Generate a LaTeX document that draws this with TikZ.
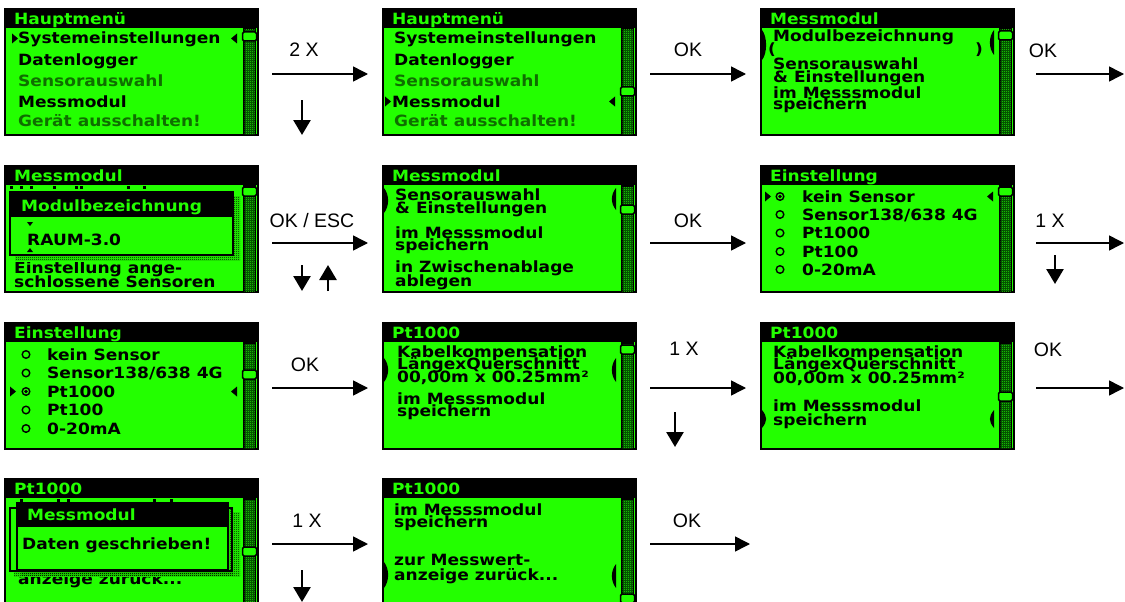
\documentclass[tikz,border=0pt]{standalone}
\usepackage{fontspec}
\setmainfont{Liberation Sans}
\newfontfamily\lcdfont[FakeStretch=1.1]{DejaVu Sans}
\usetikzlibrary{arrows.meta,patterns}

\definecolor{lcdgreen}{RGB}{35,255,0}
\definecolor{lcddim}{RGB}{15,110,0}
\definecolor{lcddark}{RGB}{0,60,0}

% fine checker for scroll bars and popup shadows
\pgfdeclarepatternformonly{lcdcheck}{\pgfpointorigin}{\pgfqpoint{2pt}{2pt}}{\pgfqpoint{2pt}{2pt}}{%
  \pgfpathrectangle{\pgfpointorigin}{\pgfqpoint{1pt}{1pt}}%
  \pgfpathrectangle{\pgfqpoint{1pt}{1pt}}{\pgfqpoint{1pt}{1pt}}%
  \pgfusepath{fill}}

\tikzset{
  screen/.style={draw=black, line width=2pt, fill=lcdgreen, inner sep=0pt,
    minimum width=253pt, minimum height=126pt},
  lcdtext/.style={anchor=base west, inner sep=0pt,
    font=\lcdfont\bfseries\fontsize{15.5}{16}\selectfont},
  lcdtitle/.style={lcdtext, text=lcdgreen},
  lcdoff/.style={lcdtext, text=lcddim},
  thumb/.style={fill=lcdgreen, draw=black, line width=1.5pt, rounded corners=1.5pt},
  popup/.style={fill=lcdgreen, draw=black, line width=2pt},
  popshadow/.style={pattern=lcdcheck, pattern color=black},
  radio/.style={draw=black, line width=1.4pt, fill=lcdgreen},
  flow/.style={-{Triangle[length=15pt,width=15pt]}, line width=1.5pt,
    shorten <=13pt, shorten >=14pt},
  press/.style={-{Triangle[length=15pt,width=17pt]}, line width=2.6pt},
  keylabel/.style={inner sep=0pt, font=\fontsize{19.5}{20}\selectfont}
}

% screen frame: name, title, top of scroll thumb
\newcommand{\lcdframe}[3]{%
  \node[screen] (#1) at (127.5,64) {};
  \fill (0,0) rectangle (255,20);
  \node[lcdtitle] (#1-title) at (10,16.5) {#2};
  \fill (239,20) rectangle (252,128);
  \fill[lcddark] (240.5,22) rectangle (250.5,126);
  \fill[pattern=lcdcheck, pattern color=lcdgreen] (240.5,22) rectangle (250.5,126);
  \draw[thumb] (238.5,#3) rectangle ++(14,9);
}
% selection marks
\newcommand{\selL}[2]{\fill (#1,#2-5) -- (#1+6,#2) -- (#1,#2+5) -- cycle;}
\newcommand{\selR}[2]{\fill (#1,#2-5) -- (#1-6,#2) -- (#1,#2+5) -- cycle;}
\newcommand{\brkL}[2]{\fill (2,#1) .. controls (7.5,#1+7) and (7.5,#2-7) .. (2,#2) -- cycle;}
\newcommand{\brkR}[2]{\fill (234,#1) .. controls (228.5,#1+7) and (228.5,#2-7) .. (234,#2) -- cycle;}
\newcommand{\lcdradio}[2]{\draw[radio] (#1,#2) circle[radius=3.8];}

\begin{document}
\begin{tikzpicture}[x=1pt, y=-1pt]
\useasboundingbox (0,0) rectangle (1125,602);

% row 1
\begin{scope}[shift={(4,8)}]
  \lcdframe{menu1}{Hauptmenü}{24}
  \foreach \y/\t [count=\i] in {36/Systemeinstellungen, 58/Datenlogger, 99/Messmodul}
    \node[lcdtext] (menu1-\i) at (14,\y) {\t};
  \node[lcdoff] (menu1-off1) at (14,78) {Sensorauswahl};
  \node[lcdoff] (menu1-off2) at (14,118) {Gerät ausschalten!};
  \selL{8}{30.5} \selR{233}{30.5}
\end{scope}

\begin{scope}[shift={(382,8)}]
  \lcdframe{menu2}{Hauptmenü}{79}
  \foreach \y/\t [count=\i] in {36/Systemeinstellungen, 58/Datenlogger}
    \node[lcdtext] (menu2-\i) at (12,\y) {\t};
  \node[lcdtext] (menu2-3) at (10,99) {Messmodul};
  \node[lcdoff] (menu2-off1) at (12,78) {Sensorauswahl};
  \node[lcdoff] (menu2-off2) at (12,118) {Gerät ausschalten!};
  \selL{3}{93.5} \selR{233}{93.5}
\end{scope}

\begin{scope}[shift={(760,8)}]
  \lcdframe{modul1}{Messmodul}{23}
  \foreach \y/\t [count=\i] in {34/Modulbezeichnung, 62/Sensorauswahl, 74/{\& Einstellungen},
      91/im Messsmodul, 102/speichern}
    \node[lcdtext] (modul1-\i) at (13,\y) {\t};
  \node[lcdtext] (modul1-po) at (8,47) {(};
  \node[lcdtext] (modul1-pc) at (215,47) {)};
  \brkL{22}{52} \brkR{22}{47}
\end{scope}

% row 2
\begin{scope}[shift={(4,165)}]
  \lcdframe{modul2}{Messmodul}{22}
  \foreach \x in {6,16,26,49,71,76,123,139}
    \fill (\x,21) rectangle ++(3,3);
  \begin{scope}
    \clip (2,97) rectangle (238,126);
    \node[lcdtext] (modul2-1) at (10,108) {Einstellung ange-};
    \node[lcdtext] (modul2-2) at (10,122) {schlossene Sensoren};
  \end{scope}
  \fill[popshadow] (11,31) rectangle (236,95);
  \draw[popup] (6,27) rectangle (229,90);
  \fill (6,27) rectangle (229,52);
  \node[lcdtitle] (modul2-pt) at (17,46) {Modulbezeichnung};
  \node[lcdtext] (modul2-val) at (23,80) {RAUM-3.0};
  \fill (23,57) -- (29,57) -- (26,61) -- cycle;
  \fill (23,87) -- (29,87) -- (26,83) -- cycle;
\end{scope}

\begin{scope}[shift={(382,165)}]
  \lcdframe{modul3}{Messmodul}{40}
  \foreach \y/\t [count=\i] in {35/Sensorauswahl, 48/{\& Einstellungen}, 73/im Messsmodul,
      85/speichern, 107/in Zwischenablage, 121/ablegen}
    \node[lcdtext] (modul3-\i) at (13,\y) {\t};
  \brkL{23}{48} \brkR{23}{45}
\end{scope}

\begin{scope}[shift={(760,165)}]
  \lcdframe{einst1}{Einstellung}{22}
  \foreach \y/\t [count=\i] in {37/kein Sensor, 55/{Sensor138/638 4G}, 73.5/Pt1000,
      92/Pt100, 110/0-20mA} {
    \lcdradio{20}{\y-5.5}
    \node[lcdtext] (einst1-\i) at (42,\y) {\t};
  }
  \fill (20,31.5) circle[radius=1.8];
  \selL{5}{31.5} \selR{233}{31.5}
\end{scope}

% row 3
\begin{scope}[shift={(4,322)}]
  \lcdframe{einst2}{Einstellung}{48}
  \foreach \y/\t [count=\i] in {38/kein Sensor, 56.5/{Sensor138/638 4G}, 75/Pt1000,
      93.5/Pt100, 112/0-20mA} {
    \lcdradio{22}{\y-5.5}
    \node[lcdtext] (einst2-\i) at (43,\y) {\t};
  }
  \fill (22,69.5) circle[radius=1.8];
  \selL{6}{69.5} \selR{233}{69.5}
\end{scope}

\begin{scope}[shift={(382,322)}]
  \lcdframe{pt1}{Pt1000}{23}
  \foreach \y/\t [count=\i] in {35/Kabelkompensation, 47/LängexQuerschnitt,
      60/{00,00m x 00.25mm²}, 82/im Messsmodul, 94/speichern}
    \node[lcdtext] (pt1-\i) at (15,\y) {\t};
  \brkL{36}{60} \brkR{36}{60}
\end{scope}

\begin{scope}[shift={(760,322)}]
  \lcdframe{pt2}{Pt1000}{70}
  \foreach \y/\t [count=\i] in {35/Kabelkompensation, 47/LängexQuerschnitt,
      61/{00,00m x 00.25mm²}, 89/im Messsmodul, 103/speichern}
    \node[lcdtext] (pt2-\i) at (13,\y) {\t};
  \brkL{88}{106} \brkR{88}{106}
\end{scope}

% row 4
\begin{scope}[shift={(4,478)}]
  \lcdframe{pt3}{Pt1000}{69}
  \foreach \x in {16,53,63,149,166}
    \fill (\x,21) rectangle ++(3,3);
  \begin{scope}
    \clip (2,99) rectangle (238,126);
    \node[lcdtext] (pt3-1) at (14,106) {anzeige zurück...};
  \end{scope}
  \fill[popshadow] (10,34) rectangle (236,98);
  \draw[popup] (6,30) rectangle (228,93);
  \fill[popshadow] (17,29) rectangle (229,97);
  \draw[popup] (13,25) rectangle (224,92);
  \fill (13,25) rectangle (224,49);
  \node[lcdtitle] (pt3-pt) at (23,42) {Messmodul};
  \node[lcdtext] (pt3-msg) at (18,71) {Daten geschrieben!};
\end{scope}

\begin{scope}[shift={(382,478)}]
  \lcdframe{pt4}{Pt1000}{116}
  \foreach \y/\t [count=\i] in {37/im Messsmodul, 49/speichern, 87/zur Messwert-}
    \node[lcdtext] (pt4-\i) at (12,\y) {\t};
  \node[lcdtext] (pt4-4) at (12,102) {anzeige zurück...};
  \brkL{84}{110} \brkR{86}{110}
\end{scope}

% key labels
\node[keylabel] (k1) at (304,50) {2 X};
\node[keylabel] (k2) at (688,50) {OK};
\node[keylabel] (k3) at (1043,51) {OK};
\node[keylabel] (k4) at (312,221) {OK / ESC};
\node[keylabel] (k5) at (688,221) {OK};
\node[keylabel] (k6) at (1050,221) {1 X};
\node[keylabel] (k7) at (305,365) {OK};
\node[keylabel] (k8) at (684,349) {1 X};
\node[keylabel] (k9) at (1048,350) {OK};
\node[keylabel] (k10) at (307,521) {1 X};
\node[keylabel] (k11) at (687,521) {OK};

% free ends
\coordinate (e1) at (1124,74);
\coordinate (e2) at (1124,243);
\coordinate (e3) at (1124,388);
\coordinate (e4) at (750,544);

% flow between screens
\draw[flow] ([yshift=-2pt]menu1.east) -- ([yshift=-2pt]menu2.west);
\draw[flow] ([yshift=-2pt]menu2.east) -- ([yshift=-2pt]modul1.west);
\draw[flow, shorten <=21pt, shorten >=0pt] ([yshift=-2pt]modul1.east) -- (e1);
\draw[flow] ([yshift=-14pt]modul2.east) -- ([yshift=-14pt]modul3.west);
\draw[flow] ([yshift=-14pt]modul3.east) -- ([yshift=-14pt]einst1.west);
\draw[flow, shorten <=21pt, shorten >=0pt] ([yshift=-14pt]einst1.east) -- (e2);
\draw[flow] ([yshift=-2pt]einst2.east) -- ([yshift=-2pt]pt1.west);
\draw[flow] ([yshift=-2pt]pt1.east) -- ([yshift=-2pt]pt2.west);
\draw[flow, shorten <=21pt, shorten >=0pt] ([yshift=-2pt]pt2.east) -- (e3);
\draw[flow] ([yshift=-2pt]pt3.east) -- ([yshift=-2pt]pt4.west);
\draw[flow, shorten >=0pt] ([yshift=-2pt]pt4.east) -- (e4);

% cursor keys
\coordinate (d1a) at (302,100); \coordinate (d1b) at (302,135);
\coordinate (d2a) at (302,265); \coordinate (d2b) at (302,291);
\coordinate (u2a) at (328,291); \coordinate (u2b) at (328,265);
\coordinate (d3a) at (1055,255); \coordinate (d3b) at (1055,284);
\coordinate (d4a) at (675,412); \coordinate (d4b) at (675,447);
\coordinate (d5a) at (302,570); \coordinate (d5b) at (302,602);
\draw[press] (d1a) -- (d1b);
\draw[press] (d2a) -- (d2b);
\draw[press] (u2a) -- (u2b);
\draw[press] (d3a) -- (d3b);
\draw[press] (d4a) -- (d4b);
\draw[press] (d5a) -- (d5b);
\end{tikzpicture}
\end{document}
